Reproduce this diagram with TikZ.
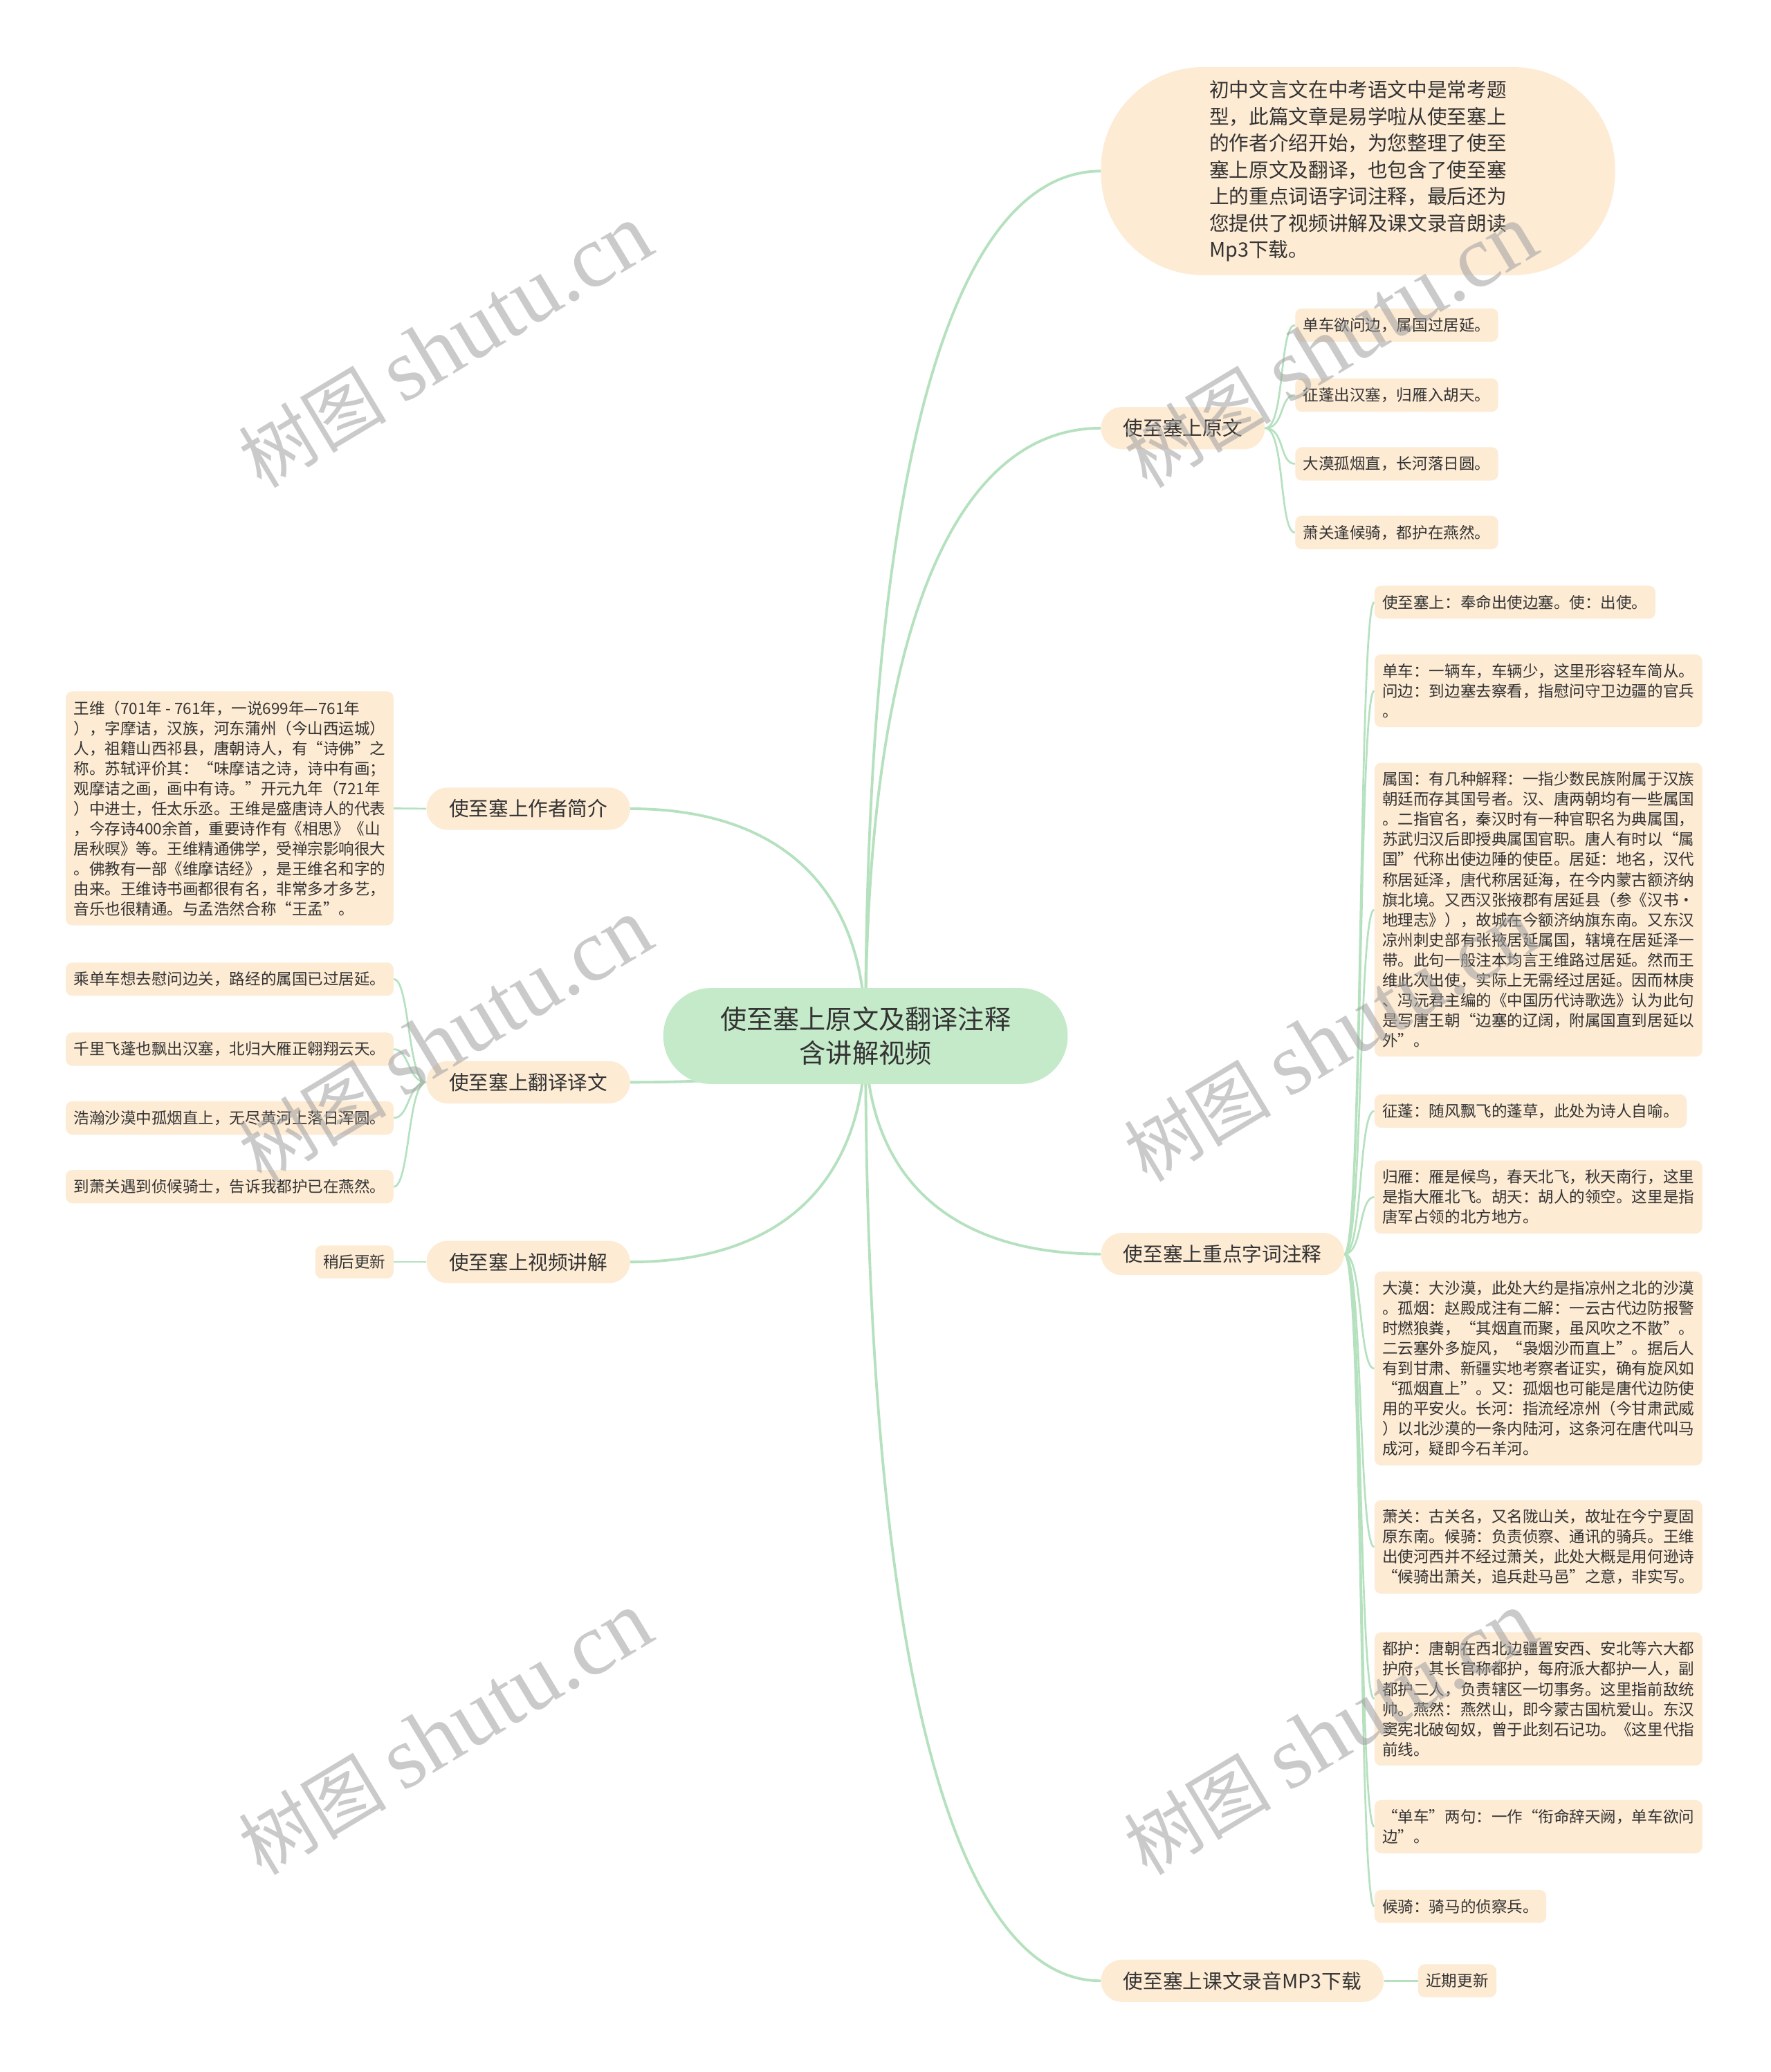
\documentclass[tikz,border=0pt]{standalone}
\usepackage{fontspec}
\setmainfont{Noto Sans CJK SC}
\newfontfamily\wmfont{Liberation Serif}
\usepackage{xcolor}
\usepackage{tikz}
\usetikzlibrary{positioning,calc,backgrounds}
\definecolor{MapGreen}{HTML}{C5EACA}
\definecolor{MapBeige}{HTML}{FDEBD4}
\definecolor{MapLine}{HTML}{B5E1BF}
\definecolor{MapText}{HTML}{333333}
\definecolor{MapMark}{HTML}{A0A0A0}

\begin{document}
\begin{tikzpicture}[x=1pt,y=-1pt,
  rootbox/.style={fill=MapGreen,rounded corners=36pt,inner xsep=43pt,inner ysep=14pt,
    align=center,text=MapText,font=\fontsize{20}{26}\selectfont},
  branch/.style={fill=MapBeige,rounded corners=16pt,inner xsep=17pt,inner ysep=9pt,
    text=MapText,font=\fontsize{15}{20.2}\selectfont},
  leaf/.style={fill=MapBeige,rounded corners=5pt,inner xsep=6pt,inner ysep=7pt,
    align=left,text=MapText,font=\fontsize{11.8}{15.2}\selectfont},
  link/.style={draw=MapLine,line width=2pt},
  twig/.style={draw=MapLine,line width=1.4pt},
  wmark/.style={text=MapMark,opacity=0.55,rotate=31}]
  \useasboundingbox (0,0) rectangle (1340,1568);

  % centre
  \node[rootbox] (root) at (655,784) {使至塞上原文及翻译注释\\含讲解视频};

  % right side
  \node[branch,anchor=west,align=left,rounded corners=77pt,inner xsep=82pt,inner ysep=10pt] (intro) at (833,129.5) {初中文言文在中考语文中是常考题\\
型，此篇文章是易学啦从使至塞上\\
的作者介绍开始，为您整理了使至\\
塞上原文及翻译，也包含了使至塞\\
上的重点词语字词注释，最后还为\\
您提供了视频讲解及课文录音朗读\\
Mp3下载。};
  \node[branch,anchor=west] (ywen) at (833,324) {使至塞上原文};
  \node[branch,anchor=west] (zshi) at (833,949) {使至塞上重点字词注释};
  \node[branch,anchor=west] (mp3) at (833,1499) {使至塞上课文录音MP3下载};

  \node[leaf,anchor=west] (ywen1) at (980,246) {单车欲问边，属国过居延。};
  \node[leaf,anchor=west] (ywen2) at (980,299) {征蓬出汉塞，归雁入胡天。};
  \node[leaf,anchor=west] (ywen3) at (980,351) {大漠孤烟直，长河落日圆。};
  \node[leaf,anchor=west] (ywen4) at (980,403) {萧关逢候骑，都护在燕然。};

  \node[leaf,anchor=north west] (zshi1) at (1040,443) {使至塞上：奉命出使边塞。使：出使。};
  \node[leaf,anchor=north west] (zshi2) at (1040,495) {单车：一辆车，车辆少，这里形容轻车简从。\\
问边：到边塞去察看，指慰问守卫边疆的官兵\\
。};
  \node[leaf,anchor=north west] (zshi3) at (1040,577) {属国：有几种解释：一指少数民族附属于汉族\\
朝廷而存其国号者。汉、唐两朝均有一些属国\\
。二指官名，秦汉时有一种官职名为典属国，\\
苏武归汉后即授典属国官职。唐人有时以“属\\
国”代称出使边陲的使臣。居延：地名，汉代\\
称居延泽，唐代称居延海，在今内蒙古额济纳\\
旗北境。又西汉张掖郡有居延县（参《汉书·\\
地理志》），故城在今额济纳旗东南。又东汉\\
凉州刺史部有张掖居延属国，辖境在居延泽一\\
带。此句一般注本均言王维路过居延。然而王\\
维此次出使，实际上无需经过居延。因而林庚\\
、冯沅君主编的《中国历代诗歌选》认为此句\\
是写唐王朝“边塞的辽阔，附属国直到居延以\\
外”。};
  \node[leaf,anchor=north west] (zshi4) at (1040,828) {征蓬：随风飘飞的蓬草，此处为诗人自喻。};
  \node[leaf,anchor=north west] (zshi5) at (1040,878) {归雁：雁是候鸟，春天北飞，秋天南行，这里\\
是指大雁北飞。胡天：胡人的领空。这里是指\\
唐军占领的北方地方。};
  \node[leaf,anchor=north west] (zshi6) at (1040,962) {大漠：大沙漠，此处大约是指凉州之北的沙漠\\
。孤烟：赵殿成注有二解：一云古代边防报警\\
时燃狼粪，“其烟直而聚，虽风吹之不散”。\\
二云塞外多旋风，“袅烟沙而直上”。据后人\\
有到甘肃、新疆实地考察者证实，确有旋风如\\
“孤烟直上”。又：孤烟也可能是唐代边防使\\
用的平安火。长河：指流经凉州（今甘肃武威\\
）以北沙漠的一条内陆河，这条河在唐代叫马\\
成河，疑即今石羊河。};
  \node[leaf,anchor=north west] (zshi7) at (1040,1135) {萧关：古关名，又名陇山关，故址在今宁夏固\\
原东南。候骑：负责侦察、通讯的骑兵。王维\\
出使河西并不经过萧关，此处大概是用何逊诗\\
“候骑出萧关，追兵赴马邑”之意，非实写。};
  \node[leaf,anchor=north west] (zshi8) at (1040,1235) {都护：唐朝在西北边疆置安西、安北等六大都\\
护府，其长官称都护，每府派大都护一人，副\\
都护二人，负责辖区一切事务。这里指前敌统\\
帅。燕然：燕然山，即今蒙古国杭爱山。东汉\\
窦宪北破匈奴，曾于此刻石记功。《这里代指\\
前线。};
  \node[leaf,anchor=north west] (zshi9) at (1040,1362) {“单车”两句：一作“衔命辞天阙，单车欲问\\
边”。};
  \node[leaf,anchor=north west] (zshi10) at (1040,1430) {候骑：骑马的侦察兵。};

  \node[leaf,anchor=west] (mp31) at (1073,1499) {近期更新};

  % left side
  \node[branch,anchor=east] (zuozhe) at (477,612) {使至塞上作者简介};
  \node[branch,anchor=east] (fanyi) at (477,819) {使至塞上翻译译文};
  \node[branch,anchor=east] (shipin) at (477,955) {使至塞上视频讲解};

  \node[leaf,anchor=north east] (zuozhe1) at (298,523) {王维（701年 - 761年，一说699年—761年\\
），字摩诘，汉族，河东蒲州（今山西运城）\\
人，祖籍山西祁县，唐朝诗人，有“诗佛”之\\
称。苏轼评价其：“味摩诘之诗，诗中有画；\\
观摩诘之画，画中有诗。”开元九年（721年\\
）中进士，任太乐丞。王维是盛唐诗人的代表\\
，今存诗400余首，重要诗作有《相思》《山\\
居秋暝》等。王维精通佛学，受禅宗影响很大\\
。佛教有一部《维摩诘经》，是王维名和字的\\
由来。王维诗书画都很有名，非常多才多艺，\\
音乐也很精通。与孟浩然合称“王孟”。};

  \node[leaf,anchor=east] (fanyi1) at (298,741) {乘单车想去慰问边关，路经的属国已过居延。};
  \node[leaf,anchor=east] (fanyi2) at (298,794) {千里飞蓬也飘出汉塞，北归大雁正翱翔云天。};
  \node[leaf,anchor=east] (fanyi3) at (298,846) {浩瀚沙漠中孤烟直上，无尽黄河上落日浑圆。};
  \node[leaf,anchor=east] (fanyi4) at (298,898) {到萧关遇到侦候骑士，告诉我都护已在燕然。};

  \node[leaf,anchor=east] (shipin1) at (298,955) {稍后更新};

  % connectors
  \begin{pgfonlayer}{background}
    \fill[white] (0,0) rectangle (1340,1568);
    \foreach \b in {intro,ywen,zshi,mp3}
      \draw[link] (root.center) .. controls ($(root.center)!0.66!(root.center|-\b.west)$)
        and ($(\b.west)!0.63!(root.center|-\b.west)$) .. (\b.west);
    \foreach \b in {zuozhe,fanyi,shipin}
      \draw[link] (root.center) .. controls ($(root.center)!0.66!(root.center|-\b.east)$)
        and ($(\b.east)!0.63!(root.center|-\b.east)$) .. (\b.east);
    \foreach \i in {1,...,4}
      \draw[twig] (ywen.east) .. controls +(15,0) and +(-12,0) .. (ywen\i.west);
    \foreach \i in {1,...,10}
      \draw[twig] (zshi.east) .. controls +(14,0) and +(-12,0) .. (zshi\i.west);
    \foreach \i in {1,...,4}
      \draw[twig] (fanyi.west) .. controls +(-14,0) and +(12,0) .. (fanyi\i.east);
    \draw[twig] (zuozhe.west) -- (zuozhe1.east);
    \draw[twig] (shipin.west) -- (shipin1.east);
    \draw[twig] (mp3.east) -- (mp31.west);
  \end{pgfonlayer}

  % watermark
  \foreach \wx/\wy [count=\k] in {337/262,1007/262,337/787,1007/787,337/1312,1007/1312}
    \node[wmark] (mark\k) at (\wx,\wy) {\fontsize{56}{56}\selectfont 树图 {\wmfont\fontsize{67}{67}\selectfont shutu.cn}};
\end{tikzpicture}
\end{document}
